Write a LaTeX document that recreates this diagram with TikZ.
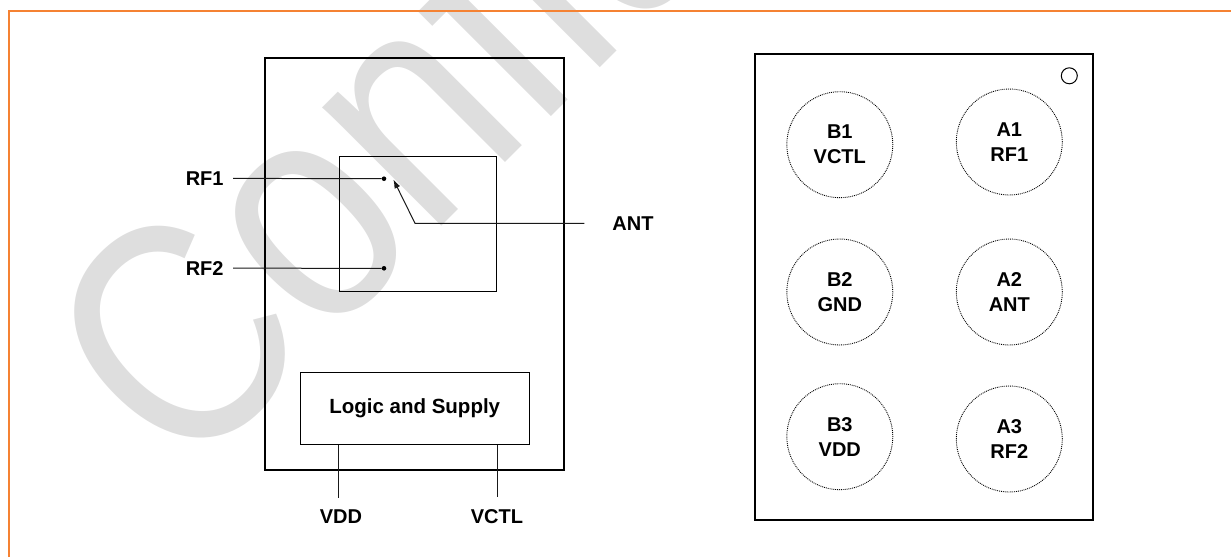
\documentclass[tikz,border=0pt]{standalone}
\usepackage{fontspec}
\setmainfont{Liberation Sans}
\usetikzlibrary{arrows.meta,positioning,calc}
\usepackage{xcolor}
\definecolor{Frame}{HTML}{F58233}
\definecolor{Stamp}{HTML}{DEDEDE}
\tikzset{
 pinlabel/.style={inner sep=0pt, font=\fontsize{20}{25}\selectfont\bfseries, align=center},
 rflabel/.style={pinlabel, text width=39pt, inner xsep=8pt, align=left},
 chip/.style={draw=black, line width=2pt, inner sep=0pt},
 block/.style={draw=black, line width=1pt, inner sep=0pt, align=center, font=\fontsize{20.5}{25}\selectfont\bfseries},
 ball/.style={circle, draw=black, densely dotted, line width=0.9pt, minimum size=106pt, inner sep=0pt, pinlabel},
 wire/.style={draw=black!90, line width=1pt},
 arrow/.style={wire, -{Latex[length=9pt,width=6pt]}},
 contact/.style={circle, fill=black, minimum size=4.6pt, inner sep=0pt}
}
\begin{document}
\begin{tikzpicture}[x=1pt,y=-1pt]
\useasboundingbox (0,0) rectangle (1231,557);
\clip (0,0) rectangle (1231,557);
\node[transform shape, rotate=45, xscale=0.85, anchor=base west, inner sep=0pt, text=Stamp, font=\fontsize{318}{318}\selectfont] (stamp) at (184,484) {Confid};
\draw[Frame, line width=2.7pt] (9,557) -- (9,11) -- (1231,11);
% left block diagram
\node[chip, minimum width=298.5pt, minimum height=412pt] (device) at (414.7,263.5) {};
\node[block, minimum width=157.4pt, minimum height=135pt] (switch) at (418,223.5) {};
\node[block, minimum width=229.3pt, minimum height=72pt] (logic) at (414.7,408.3) {Logic and Supply};
\node[contact] (rfonedot) at (384,178.7) {};
\node[contact] (rftwodot) at (384,268.3) {};
\coordinate (antbend) at (415,223.3);
\coordinate (anttip) at (393.3,179.3);
\node[rflabel, anchor=east] (rfone) at (233,178.4) {RF1};
\node[rflabel, anchor=east] (rftwo) at (233,268.2) {RF2};
\node[pinlabel] (ant) at (633,223.3) {ANT};
\node[pinlabel] (vdd) at (341,516.7) {VDD};
\node[pinlabel] (vctl) at (497,516.7) {VCTL};
\draw[wire] (rfone.east) -- (rfonedot);
\draw[wire] (rftwo.east) -- (rftwodot);
\draw[arrow, shorten <=28pt] (ant.west |- antbend) -- (antbend) -- (anttip);
\draw[wire, shorten >=12pt] (logic.south -| switch.west) -- (vdd.north -| switch.west);
\draw[wire, shorten >=12pt] (logic.south -| switch.east) -- (vctl.north -| switch.east);
% right ball map
\node[chip, minimum width=337.4pt, minimum height=466pt] (package) at (924,287) {};
\node[circle, draw=black, line width=1pt, minimum size=16pt, inner sep=0pt] (pinone) at (1069.3,75.8) {};
\node[ball] (bone) at (839.8,144.7) {B1\\VCTL};
\node[ball] (aone) at (1009.3,142) {A1\\RF1};
\node[ball] (btwo) at (839.8,292) {B2\\GND};
\node[ball] (atwo) at (1009.3,292) {A2\\ANT};
\node[ball] (bthree) at (839.8,436.7) {B3\\VDD};
\node[ball] (athree) at (1009.3,439) {A3\\RF2};
\end{tikzpicture}
\end{document}
